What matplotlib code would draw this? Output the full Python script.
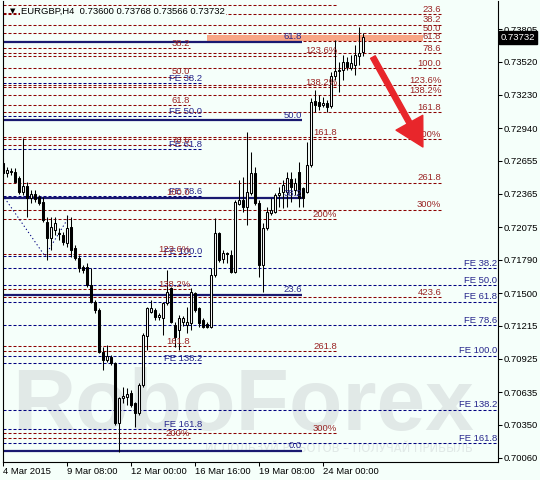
import matplotlib
matplotlib.use('Agg')
import matplotlib.pyplot as plt
from matplotlib.patches import Rectangle
from matplotlib.transforms import blended_transform_factory

plt.rcParams['font.family'] = ['Liberation Sans', 'DejaVu Sans']
plt.rcParams['font.size'] = 6.8

# ---- data (EURGBP H4, prices) ----
symbol = 'EURGBP,H4'
last_ohlc = [0.73600, 0.73768, 0.73566, 0.73732]

opens = [0.72635, 0.72548, 0.72556, 0.72556, 0.72504, 0.72382, 0.72434, 0.72329, 0.72364, 0.72338,
         0.72295, 0.72120, 0.71980, 0.72050, 0.72024, 0.72006, 0.71937, 0.72076, 0.71893, 0.71806,
         0.71727, 0.71727, 0.71570, 0.71422, 0.71352, 0.70985, 0.70915, 0.70941, 0.70889, 0.70365,
         0.70584, 0.70592, 0.70627, 0.70540, 0.70453, 0.70697, 0.71125, 0.71334, 0.71352, 0.71291,
         0.71282, 0.71413, 0.71544, 0.71221, 0.71177, 0.71247, 0.71221, 0.71238, 0.71500, 0.71369,
         0.71264, 0.71230, 0.71203, 0.71657, 0.72024, 0.71797, 0.71849, 0.71832, 0.71683, 0.72277,
         0.72312, 0.72251, 0.72373, 0.72548, 0.72286, 0.71745, 0.72068, 0.72199, 0.72207, 0.72356,
         0.72382, 0.72382, 0.72495, 0.72399, 0.72556, 0.72417, 0.72382, 0.72618, 0.73176, 0.73168,
         0.73141, 0.73159, 0.73133, 0.73395, 0.73438, 0.73447, 0.73517, 0.73464, 0.73491, 0.73569,
         0.73600]
highs = [0.72679, 0.72600, 0.72591, 0.72591, 0.72521, 0.72853, 0.72469, 0.72399, 0.72399, 0.72356,
         0.72338, 0.72164, 0.72164, 0.72164, 0.72068, 0.72033, 0.72181, 0.72164, 0.71919, 0.71832,
         0.71745, 0.71762, 0.71718, 0.71439, 0.71369, 0.71029, 0.71046, 0.70959, 0.70898, 0.70592,
         0.70680, 0.70671, 0.70653, 0.70549, 0.70714, 0.71151, 0.71378, 0.71439, 0.71369, 0.71326,
         0.71422, 0.71701, 0.71552, 0.71247, 0.71308, 0.71299, 0.71378, 0.71544, 0.71509, 0.71378,
         0.71282, 0.71247, 0.71718, 0.72155, 0.72033, 0.71876, 0.71858, 0.71876, 0.72312, 0.72487,
         0.72513, 0.72906, 0.72731, 0.72600, 0.72312, 0.72111, 0.72251, 0.72329, 0.72373, 0.72425,
         0.72487, 0.72556, 0.72556, 0.72504, 0.72644, 0.72425, 0.72818, 0.73203, 0.73272, 0.73229,
         0.73211, 0.73185, 0.73429, 0.73709, 0.73517, 0.73578, 0.73560, 0.73578, 0.73665, 0.73822,
         0.73768]
lows = [0.72443, 0.72513, 0.72530, 0.72460, 0.72364, 0.72356, 0.72164, 0.72286, 0.72295, 0.72268,
        0.72120, 0.71788, 0.71876, 0.72006, 0.71963, 0.71919, 0.71902, 0.71814, 0.71788, 0.71683,
        0.71675, 0.71552, 0.71413, 0.71326, 0.70976, 0.70828, 0.70898, 0.70872, 0.70348, 0.70112,
        0.70540, 0.70522, 0.70505, 0.70330, 0.70435, 0.70680, 0.71003, 0.71326, 0.71264, 0.71264,
        0.71133, 0.71395, 0.71238, 0.71029, 0.71003, 0.71212, 0.71151, 0.71177, 0.71334, 0.71203,
        0.71195, 0.71195, 0.71195, 0.71640, 0.71771, 0.71762, 0.71762, 0.71675, 0.71675, 0.72268,
        0.72207, 0.72094, 0.72356, 0.72268, 0.71640, 0.71509, 0.72050, 0.72181, 0.72199, 0.72251,
        0.72242, 0.72251, 0.72295, 0.72356, 0.72251, 0.72251, 0.72373, 0.72600, 0.73080, 0.73098,
        0.73124, 0.73080, 0.73115, 0.73360, 0.73255, 0.73360, 0.73447, 0.73447, 0.73403, 0.73491,
        0.73566]
closes = [0.72548, 0.72574, 0.72565, 0.72469, 0.72382, 0.72434, 0.72329, 0.72364, 0.72321, 0.72286,
          0.72137, 0.71980, 0.72076, 0.72111, 0.72015, 0.71945, 0.72068, 0.71876, 0.71806, 0.71718,
          0.71701, 0.71570, 0.71422, 0.71352, 0.70985, 0.70915, 0.70950, 0.70889, 0.70365, 0.70584,
          0.70601, 0.70618, 0.70522, 0.70453, 0.70697, 0.71133, 0.71369, 0.71369, 0.71291, 0.71308,
          0.71413, 0.71509, 0.71247, 0.71116, 0.71282, 0.71282, 0.71247, 0.71509, 0.71352, 0.71238,
          0.71203, 0.71203, 0.71657, 0.72024, 0.71788, 0.71849, 0.71841, 0.71683, 0.72295, 0.72312,
          0.72251, 0.72382, 0.72548, 0.72286, 0.71745, 0.72068, 0.72207, 0.72225, 0.72356, 0.72373,
          0.72443, 0.72504, 0.72425, 0.72460, 0.72329, 0.72329, 0.72618, 0.73168, 0.73141, 0.73133,
          0.73159, 0.73124, 0.73395, 0.73438, 0.73447, 0.73517, 0.73473, 0.73508, 0.73578, 0.73595,
          0.73732]

date_pos = [0, 16, 32, 48, 64, 80]
date_labels = ['4 Mar 2015', '9 Mar 08:00', '12 Mar 00:00', '16 Mar 16:00', '19 Mar 08:00', '24 Mar 00:00']
price_ticks = [0.73805, 0.73520, 0.73230, 0.72940, 0.72655, 0.72365, 0.72075,
               0.71790, 0.71500, 0.71215, 0.70925, 0.70635, 0.70350, 0.70060]

# fibo tools: price at 0 %, price at 100 %, levels, texts, last candle the lines reach
fibo_r = (0.74080, 0.73463)
fibo_r_levels = [23.6, 38.2, 50.0, 61.8, 78.6, 100.0, 123.6, 138.2, 161.8, 200.0, 261.8, 300.0, 423.6]
fibo_r_text = ['23.6', '38.2', '50.0', '61.8', '78.6', '100.0', '123.6%', '138.2%', '161.8', '200%',
               '261.8', '300%', '423.6']
fibo_m = (0.74442, 0.72338)
fibo_m_levels = [23.6, 38.2, 50.0, 61.8, 78.6, 100.0, 123.6, 138.2, 161.8, 200.0]
fibo_m_text = ['', '38.2', '50.0', '61.8', '78.6', '100.0', '123.6%', '138.2%', '161.8', '200%']
fibo_s = (0.75883, 0.74014)
fibo_s_levels = [100.0, 123.6, 138.2, 161.8, 200.0, 261.8, 300.0]
fibo_s_text = ['', '123.6%', '138.2%', '161.8', '200%', '261.8', '300%']
fibo_big = (0.70123, 0.75901)
fibo_big_levels = [0.0, 23.6, 38.2, 50.0, 61.8]
fibo_big_text = ['0.0', '23.6', '38.2', '50.0', '61.8']
fe_levels = [38.2, 50.0, 61.8, 78.6, 100.0, 138.2, 161.8]
fe_text = ['FE 38.2', 'FE 50.0', 'FE 61.8', 'FE 78.6', 'FE 100.0', 'FE 138.2', 'FE 161.8']
fe_left = (0.74263, 0.71821)
fe_right = (0.72187, 0.70954)
fe_wave_x = [-0.2, 10.4, 16.4]
fe_wave_p = [0.72356, 0.71823, 0.72164]
zone = (50.9, 104.9, 0.73704, 0.73752)
arrow_from = (92.4, 0.73560)
arrow_to = (104.9, 0.72775)

# ---- figure ----
BG = '#f5fffa'
RED = '#8b0000'
NAVY = '#000080'
RED_TXT = '#9a2424'
BLUE_TXT = '#26268c'
WM = '#e1e9e7'
DASH = (0, (2.9, 1.9))

fig = plt.figure(figsize=(5.4, 4.8), dpi=100, facecolor=BG)
ax = fig.add_axes([2.5 / 540, 18.5 / 480, 495 / 540, 461 / 480])
ax.set_facecolor(BG)
ax.set_xlim(-0.2, 123.55)
ax.set_ylim(0.70029, 0.74054)
x_end = ax.get_xlim()[1]

# watermark
ax.text(0.02, 0.068, 'RoboForex', transform=ax.transAxes, fontsize=63, fontweight='bold',
        color=WM, va='baseline', ha='left', zorder=0.5)
ax.text(0.95, 0.02, 'ИСПОЛЬЗУЙ РОБОТОВ – ПОЛУЧАЙ ПРИБЫЛЬ', transform=ax.transAxes, fontsize=8.3,
        color=WM, va='baseline', ha='right', zorder=0.5, family=['DejaVu Sans'])


def fibo(p, levels, texts, xr, color, ls, lw, tcolor):
    p0, p100 = p
    for lv, t in zip(levels, texts):
        y = p0 + (p100 - p0) * lv / 100.0
        ax.hlines(y, -0.2, xr, colors=color, linestyles=ls, lw=lw, zorder=1.5)
        if t:
            ax.annotate(t, xy=(xr, y), xytext=(0, 0.2), textcoords='offset points', ha='right',
                        va='bottom', color=tcolor, fontsize=6.8, zorder=5)


ax.add_patch(Rectangle((zone[0], zone[2]), zone[1] - zone[0], zone[3] - zone[2],
                       facecolor='#f8a585', edgecolor='none', zorder=1.2))

fibo(fe_right, fe_levels, fe_text, x_end - 0.1, NAVY, DASH, 0.75, BLUE_TXT)
fibo(fe_left, fe_levels, fe_text, 49.7, NAVY, DASH, 0.75, BLUE_TXT)
fibo(fibo_r, fibo_r_levels, fibo_r_text, 109.5, RED, DASH, 0.75, RED_TXT)
fibo(fibo_s, fibo_s_levels, fibo_s_text, 83.5, RED, DASH, 0.75, RED_TXT)
fibo(fibo_m, fibo_m_levels, fibo_m_text, 46.7, RED, DASH, 0.75, RED_TXT)
fibo(fibo_big, fibo_big_levels, fibo_big_text, 74.7, '#191970', '-', 1.6, BLUE_TXT)
ax.plot(fe_wave_x, fe_wave_p, color=NAVY, lw=0.75, ls=(0, (1.2, 2.4)), zorder=1.5)

# candles
xs = list(range(len(opens)))
ax.vlines(xs, lows, highs, colors='black', lw=0.75, zorder=3)
bodies = [max(abs(c - o), 0.000005) for o, c in zip(opens, closes)]
bottoms = [min(o, c) for o, c in zip(opens, closes)]
fills = ['white' if c >= o else 'black' for o, c in zip(opens, closes)]
ax.bar(xs, bodies, bottom=bottoms, width=0.55, color=fills, edgecolor='black', lw=0.75, zorder=3.5)

# arrow
ax.annotate('', xy=arrow_to, xytext=arrow_from,
            arrowprops=dict(arrowstyle='simple,head_width=2.2,head_length=2.0,tail_width=0.38',
                            color='#e8262b', shrinkA=0, shrinkB=0, mutation_scale=10), zorder=6)

# header
hdr = '%s  %.5f %.5f %.5f %.5f' % (symbol, *last_ohlc)
ax.text(18.5 / 495, 1 - 10.5 / 461, hdr, transform=ax.transAxes, fontsize=6.8, va='center',
        ha='left', zorder=7, bbox=dict(facecolor=BG, edgecolor='none', pad=0.6))
ax.text(7 / 495, 1 - 11 / 461, '▼', transform=ax.transAxes, fontsize=5, va='center', ha='left',
        zorder=7, family=['DejaVu Sans'])

# axes
ax.spines['top'].set_visible(False)
for s in ['left', 'right', 'bottom']:
    ax.spines[s].set_linewidth(0.8)
ax.yaxis.tick_right()
ax.set_yticks(price_ticks)
ax.set_yticklabels(['%.5f' % v for v in price_ticks])
ax.set_xticks(date_pos)
ax.set_xticklabels(date_labels, ha='left')
ax.tick_params(axis='x', length=3, width=0.75, pad=1, labelsize=6.8)
ax.tick_params(axis='y', length=3, width=0.75, pad=1.2, labelsize=6.8)

bt = blended_transform_factory(ax.transAxes, ax.transData)
ax.text(1.0 + 3 / 495, last_ohlc[3], '%.5f' % last_ohlc[3], transform=bt, color='white',
        fontsize=6.8, va='center', ha='left', clip_on=False, zorder=8,
        bbox=dict(facecolor='black', edgecolor='black', pad=1.2))

fig.savefig('out.png', dpi=100, facecolor=BG)
